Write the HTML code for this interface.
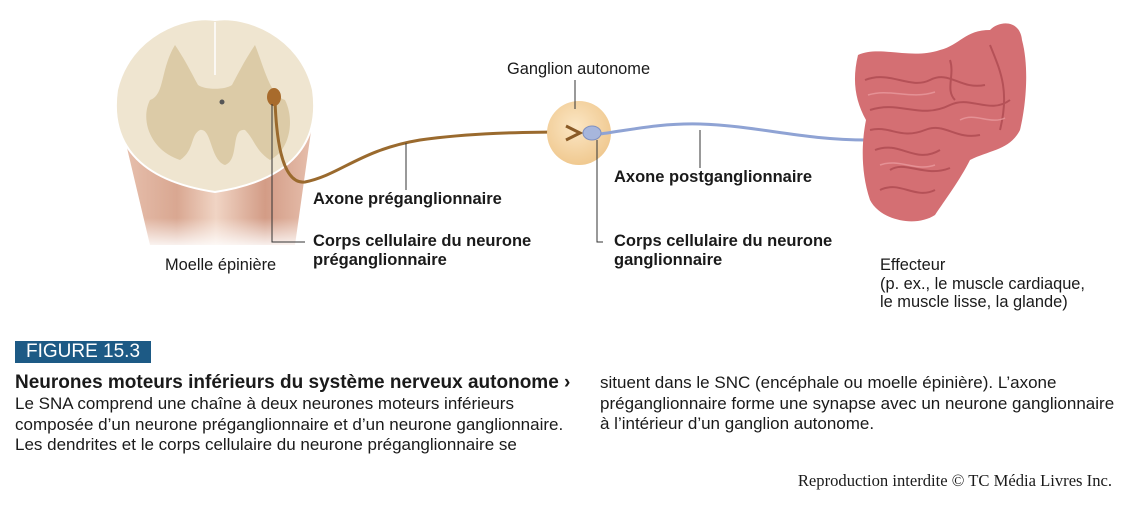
<!DOCTYPE html>
<html><head><meta charset="utf-8"><style>
body{margin:0;background:#fff;width:1128px;height:505px;overflow:hidden;position:relative;font-family:"Liberation Sans",sans-serif;color:#1a1a1a}
.t{position:absolute;white-space:nowrap}
.b{font-weight:bold;font-size:16.5px;line-height:19px}
.n{font-size:16.4px;line-height:18.5px}
.p{font-size:17px;line-height:20.5px}
</style></head><body>
<svg width="1128" height="505" style="position:absolute;left:0;top:0">
<defs>
<linearGradient id="cyl" x1="0" x2="1" y1="0" y2="0">
<stop offset="0" stop-color="#e8c2b0"/><stop offset="0.3" stop-color="#d9a791"/><stop offset="0.5" stop-color="#f0d4c4"/><stop offset="0.75" stop-color="#d39c86"/><stop offset="1" stop-color="#e7c0ae"/></linearGradient>
<linearGradient id="fade" x1="0" x2="0" y1="0" y2="1"><stop offset="0.6" stop-color="#fff" stop-opacity="0"/><stop offset="1" stop-color="#fff" stop-opacity="1"/></linearGradient>
<radialGradient id="gang" cx="0.45" cy="0.4" r="0.6"><stop offset="0" stop-color="#fbe6c4"/><stop offset="1" stop-color="#f0c990"/></radialGradient>
</defs>
<g>
<path d="M118,110 L150,245 L295,245 L314,110 Z" fill="url(#cyl)"/>
<rect x="110" y="170" width="210" height="80" fill="url(#fade)"/>
<path d="M215,20 C185,15 130,35 117,90 C110,140 135,180 215,192 C295,180 320,140 313,90 C300,35 245,15 215,20 Z" fill="#efe5d0" stroke="#fff" stroke-width="2"/>
<path d="M175,45 C160,70 165,95 150,100 C140,120 150,150 180,160 C195,150 190,135 200,130 C212,128 210,160 225,165 C240,160 230,128 245,130 C255,140 255,150 270,160 C290,150 295,120 285,100 C270,95 265,70 255,45 C245,60 240,70 232,85 C225,90 205,90 198,85 C190,70 185,60 175,45 Z" fill="#d8c7a0" opacity="0.85"/>
<circle cx="222" cy="102" r="2.5" fill="#555"/>
<line x1="215" y1="22" x2="215" y2="75" stroke="#fff" stroke-width="1.5"/>
</g>
<path d="M275,100 C276,130 280,185 305,182 C340,175 360,150 420,140 C470,133 520,132 575,132" fill="none" stroke="#9a6a2e" stroke-width="3"/>
<ellipse cx="274" cy="97" rx="7" ry="9" fill="#a86b2c"/>
<circle cx="579" cy="133" r="32" fill="url(#gang)"/>
<path d="M566,126 L580,133 L566,140" fill="none" stroke="#8a5a26" stroke-width="3"/>
<path d="M600,134 C630,130 660,123 700,124 C760,126 800,140 868,140" fill="none" stroke="#8fa3d4" stroke-width="3"/>
<ellipse cx="592" cy="133" rx="9" ry="7" fill="#a7b6dc" stroke="#7f90c0"/>
<path d="M872,130 L866,140 L872,150" fill="none" stroke="#8fa3d4" stroke-width="3"/>
<g>
<path d="M858,55 C880,45 910,60 940,50 C960,45 965,30 990,30 C1000,20 1020,20 1022,40 C1030,70 1025,110 1020,130 C1010,150 990,150 970,160 C960,180 945,200 935,215 C915,228 880,220 870,200 C860,170 862,140 866,120 C855,100 852,80 858,55 Z" fill="#d46f73"/>
<g fill="none" stroke="#a8454c" stroke-width="2" opacity="0.7">
<path d="M865,80 C890,70 910,90 930,80 C950,70 960,90 985,85"/><path d="M870,110 C900,100 920,120 950,105 C970,95 990,115 1010,100"/>
<path d="M875,150 C900,140 915,165 940,150"/><path d="M880,190 C900,180 915,200 935,190"/><path d="M990,45 C1000,70 1010,90 1000,130"/>
<path d="M870,130 C890,125 900,140 925,130 C945,122 955,140 980,135"/><path d="M890,170 C905,160 925,178 950,168"/><path d="M950,60 C955,75 945,90 955,100"/>
</g>
<g fill="none" stroke="#eca0a4" stroke-width="1.5" opacity="0.7">
<path d="M868,95 C890,88 910,100 935,92"/><path d="M880,165 C900,158 915,172 935,165"/><path d="M960,120 C975,112 990,125 1005,118"/>
</g></g>
<g stroke="#333" stroke-width="1" fill="none">
<path d="M575,80 V109"/><path d="M406,143 V190"/><path d="M272,104 V242 H305"/><path d="M700,130 V168"/><path d="M597,140 V242 H603"/>
</g>
</svg>
<div class="t n" style="left:507px;top:60px">Ganglion autonome</div>
<div class="t b" style="left:313px;top:190px">Axone préganglionnaire</div>
<div class="t b" style="left:313px;top:232px">Corps cellulaire du neurone<br>préganglionnaire</div>
<div class="t n" style="left:165px;top:256px">Moelle épinière</div>
<div class="t b" style="left:614px;top:168px">Axone postganglionnaire</div>
<div class="t b" style="left:614px;top:232px">Corps cellulaire du neurone<br>ganglionnaire</div>
<div class="t n" style="left:880px;top:256px">Effecteur<br>(p. ex., le muscle cardiaque,<br>le muscle lisse, la glande)</div>
<div class="t" style="left:15px;top:341px;width:136px;height:22px;background:#1d5a85;color:#fff;font-size:19px;line-height:22px;text-align:center">FIGURE 15.3</div>
<div class="t" style="left:15px;top:372px;font-size:19px;font-weight:bold;line-height:21px">Neurones moteurs inférieurs du système nerveux autonome ›</div>
<div class="t p" style="left:15px;top:394px">Le SNA comprend une chaîne à deux neurones moteurs inférieurs<br>composée d’un neurone préganglionnaire et d’un neurone ganglionnaire.<br>Les dendrites et le corps cellulaire du neurone préganglionnaire se</div>
<div class="t p" style="left:600px;top:373px">situent dans le SNC (encéphale ou moelle épinière). L’axone<br>préganglionnaire forme une synapse avec un neurone ganglionnaire<br>à l’intérieur d’un ganglion autonome.</div>
<div class="t" style="right:16px;top:471px;font-family:'Liberation Serif',serif;font-size:16.6px">Reproduction interdite © TC Média Livres Inc.</div>
</body></html>
